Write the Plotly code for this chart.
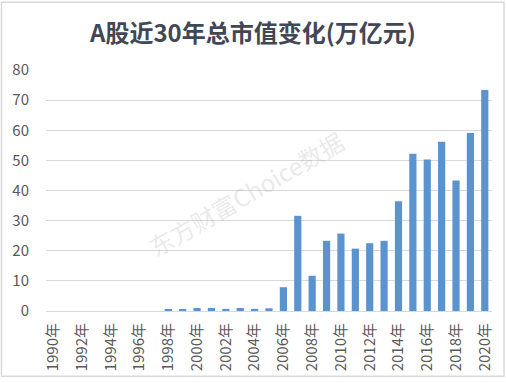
import plotly.graph_objects as go

years = list(range(1990, 2021))
categories = [f"{y}年" for y in years]
values = [0, 0, 0, 0, 0, 0, 0, 0,
          0.4, 0.4, 1.0, 1.0, 0.7, 1.0, 0.7, 0.9,
          7.9, 31.6, 11.7, 23.3, 25.7, 20.7, 22.5, 23.3,
          36.4, 52.2, 50.3, 56.2, 43.3, 59.1, 73.4]
tick_labels = categories[::2]
y_ticks = [0, 10, 20, 30, 40, 50, 60, 70, 80]

title_text = "A股近30年总市值变化(万亿元)"
watermark = "东方财富Choice数据"

FONT = "Noto Sans CJK SC, Microsoft YaHei, sans-serif"

fig = go.Figure()
fig.add_trace(go.Bar(
    x=categories, y=values,
    marker=dict(color="#5B93CE", line=dict(width=0)),
    hoverinfo="x+y",
))

L, R, T, B = 46, 14, 70, 69
W, H = 506, 383
pw, ph = W - L - R, H - T - B

def px(x):
    return (x - L) / pw

def py(y):
    return (H - B - y) / ph

fig.update_layout(
    width=W, height=H,
    margin=dict(l=L, r=R, t=T, b=B),
    paper_bgcolor="white", plot_bgcolor="white",
    bargap=0.5,
    showlegend=False,
    font=dict(family=FONT, color="#595959", size=15),
    title=dict(text=f"<b>{title_text}</b>", x=0.5, xanchor="center",
               y=1 - 34 / H, yanchor="middle",
               font=dict(family=FONT, size=24, color="#414755")),
    xaxis=dict(
        type="category",
        tickmode="array", tickvals=tick_labels, ticktext=tick_labels,
        tickangle=-90,
        showgrid=False,
        showline=True, linecolor="#d9d9d9", linewidth=1,
        ticks="",
        tickfont=dict(size=15, color="#595959"),
        ticklabelstandoff=5,
    ),
    yaxis=dict(
        range=[0, 80],
        tickmode="array", tickvals=y_ticks,
        showgrid=True, gridcolor="#d9d9d9", gridwidth=1,
        zeroline=True, zerolinecolor="#d9d9d9", zerolinewidth=1,
        showline=False, ticks="",
        tickfont=dict(size=15, color="#595959"),
        ticklabelstandoff=16,
    ),
    shapes=[dict(type="rect", xref="paper", yref="paper",
                 x0=px(1.5), x1=px(504), y0=py(380), y1=py(1.5),
                 line=dict(color="#d9d9d9", width=1.5), layer="below")],
    annotations=[dict(text=watermark, xref="paper", yref="paper",
                      x=px(246), y=py(195), showarrow=False,
                      textangle=-30,
                      font=dict(family=FONT, size=24,
                                color="rgba(170,170,170,0.25)"))],
)

fig.write_html("out.html",
               config={"displayModeBar": False},
               post_script="document.body.style.margin='0';document.body.style.overflow='hidden';")
